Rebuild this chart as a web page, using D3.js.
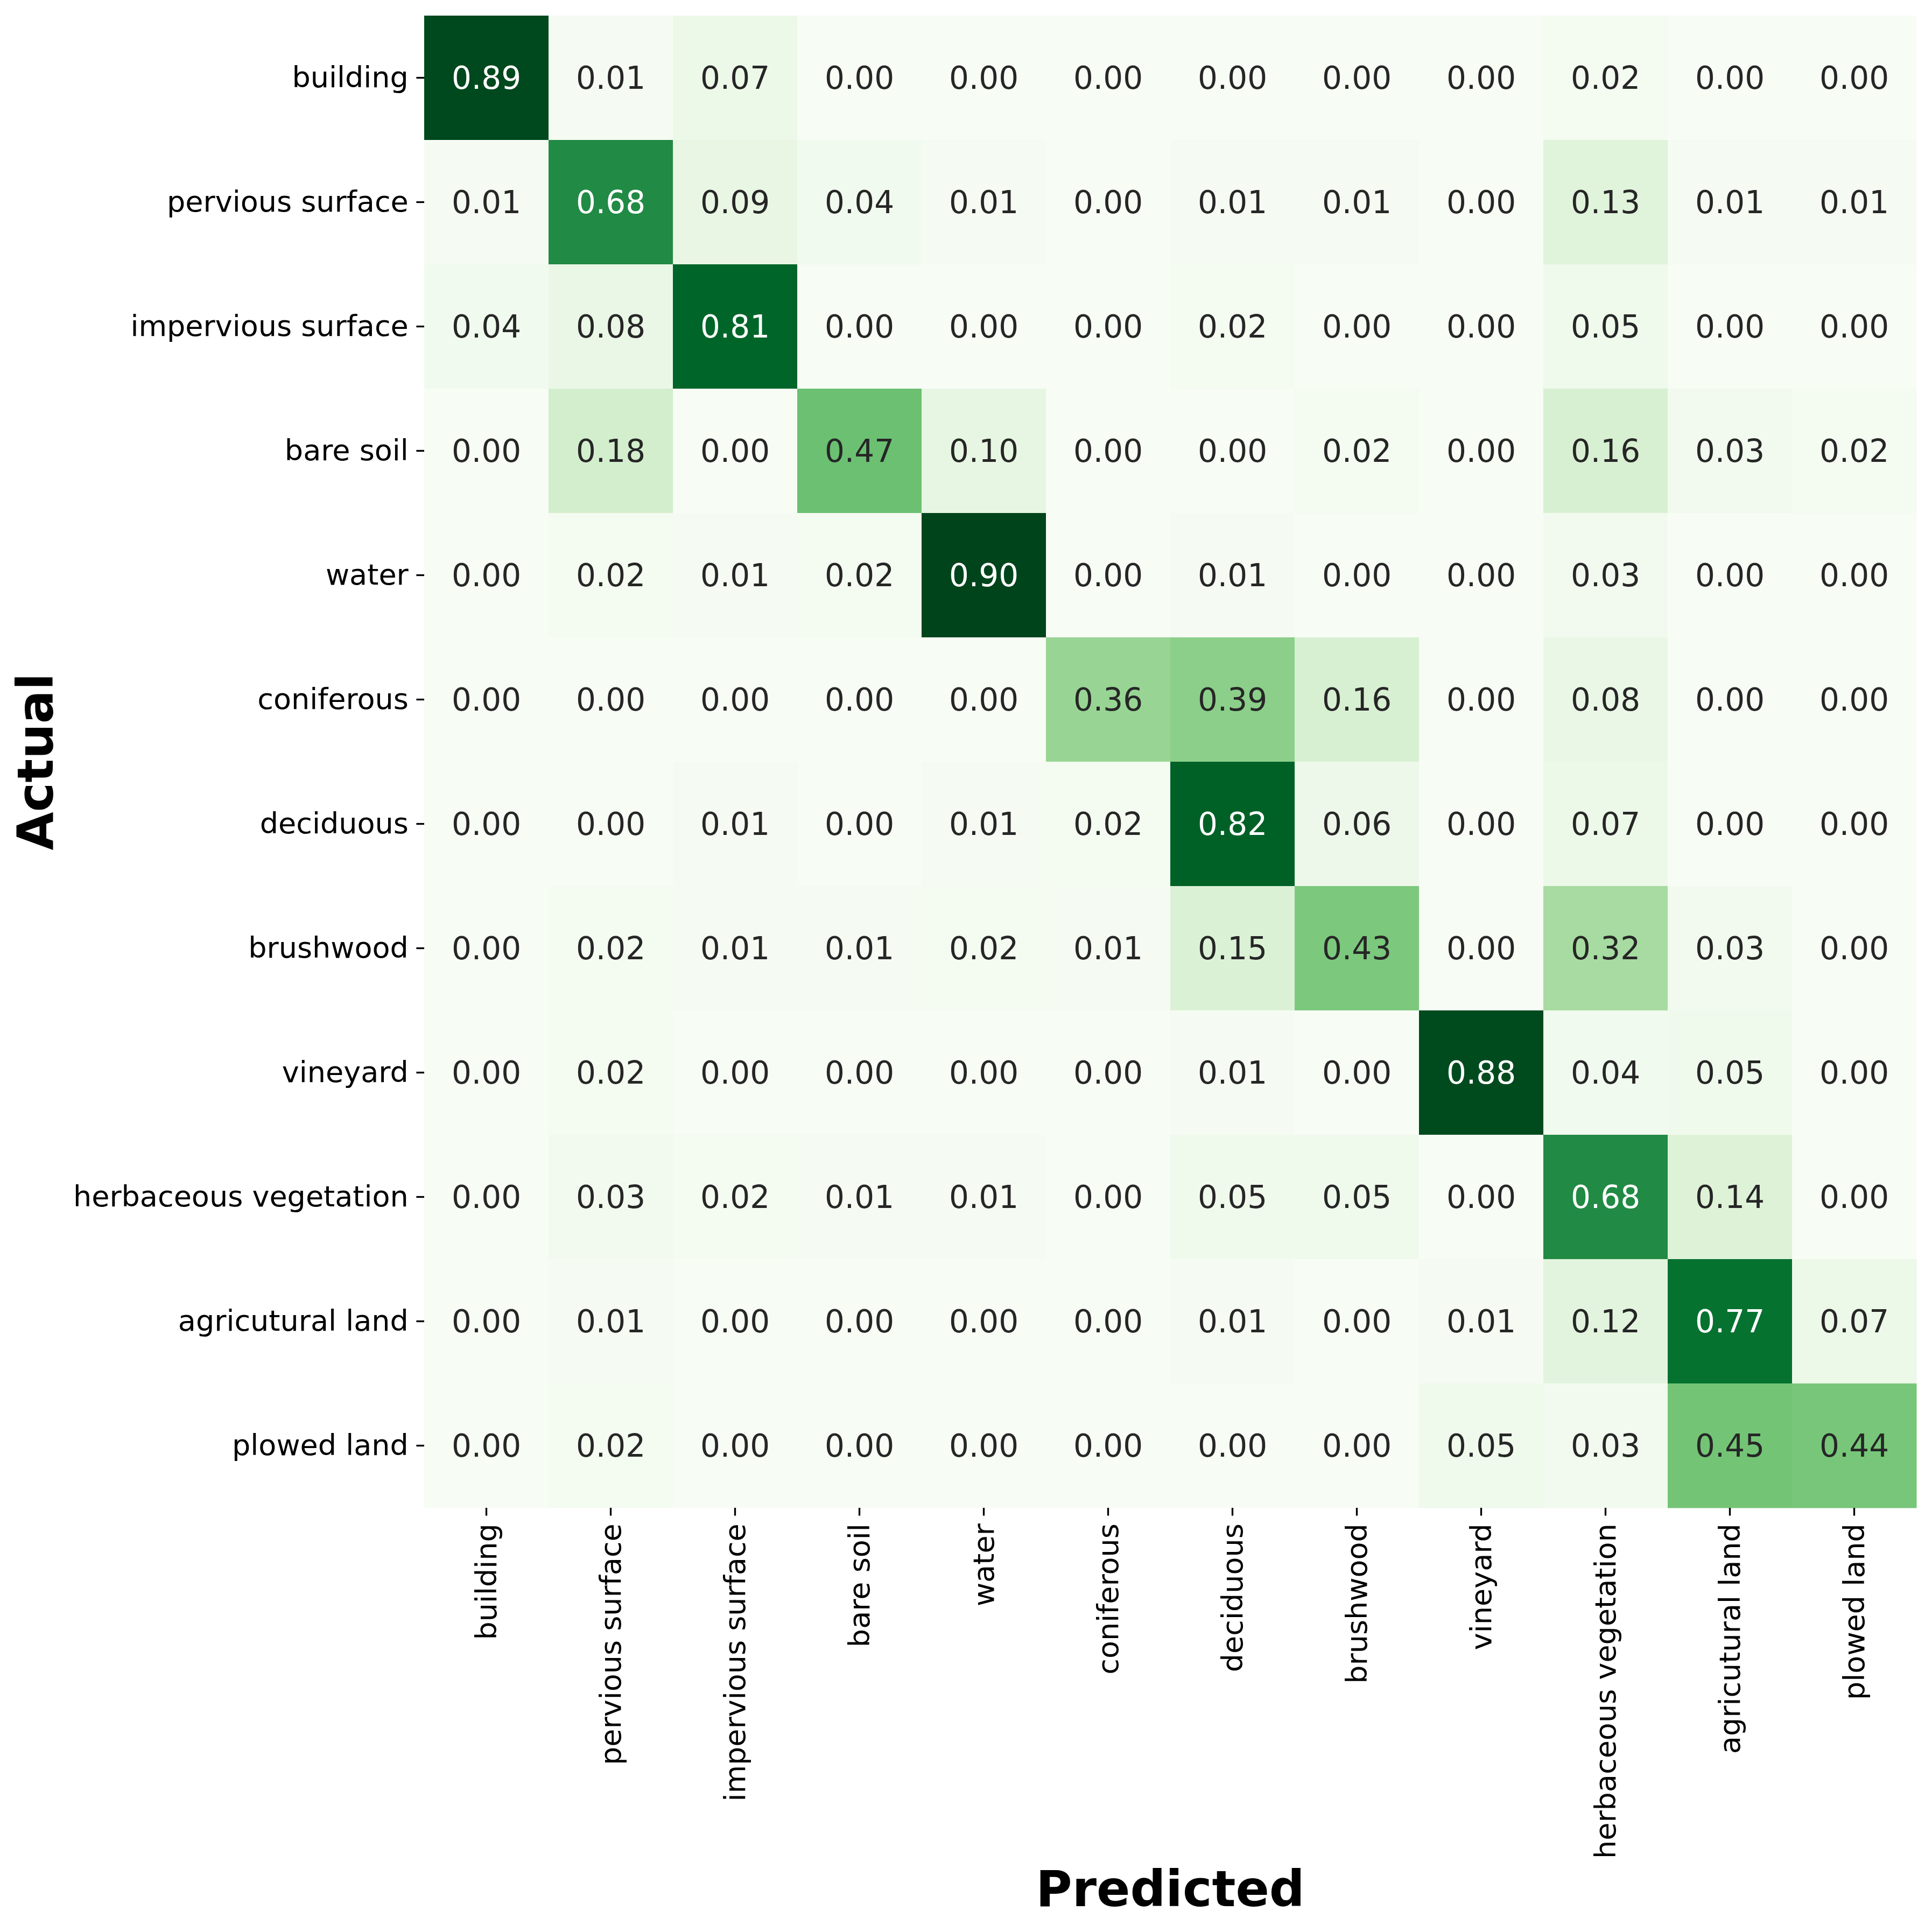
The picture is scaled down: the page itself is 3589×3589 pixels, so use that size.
<!DOCTYPE html>
<html>
<head>
<meta charset="utf-8">
<script src="https://cdn.jsdelivr.net/npm/d3@7"></script>
<style>
body { margin: 0; background: #fff; }
text { font-family: "DejaVu Sans", sans-serif; }
</style>
</head>
<body>
<div id="viz"></div>
<script>
// classes, in the order used for both axes
var classes = ["building", "pervious surface", "impervious surface", "bare soil", "water",
	"coniferous", "deciduous", "brushwood", "vineyard", "herbaceous vegetation",
	"agricutural land", "plowed land"];

// one row per actual class
var building     = [0.89, 0.01, 0.07, 0.00, 0.00, 0.00, 0.00, 0.00, 0.00, 0.02, 0.00, 0.00];
var pervious     = [0.01, 0.68, 0.09, 0.04, 0.01, 0.00, 0.01, 0.01, 0.00, 0.13, 0.01, 0.01];
var impervious   = [0.04, 0.08, 0.81, 0.00, 0.00, 0.00, 0.02, 0.00, 0.00, 0.05, 0.00, 0.00];
var bareSoil     = [0.00, 0.18, 0.00, 0.47, 0.10, 0.00, 0.00, 0.02, 0.00, 0.16, 0.03, 0.02];
var water        = [0.00, 0.02, 0.01, 0.02, 0.90, 0.00, 0.01, 0.00, 0.00, 0.03, 0.00, 0.00];
var coniferous   = [0.00, 0.00, 0.00, 0.00, 0.00, 0.36, 0.39, 0.16, 0.00, 0.08, 0.00, 0.00];
var deciduous    = [0.00, 0.00, 0.01, 0.00, 0.01, 0.02, 0.82, 0.06, 0.00, 0.07, 0.00, 0.00];
var brushwood    = [0.00, 0.02, 0.01, 0.01, 0.02, 0.01, 0.15, 0.43, 0.00, 0.32, 0.03, 0.00];
var vineyard     = [0.00, 0.02, 0.00, 0.00, 0.00, 0.00, 0.01, 0.00, 0.88, 0.04, 0.05, 0.00];
var herbaceous   = [0.00, 0.03, 0.02, 0.01, 0.01, 0.00, 0.05, 0.05, 0.00, 0.68, 0.14, 0.00];
var agricultural = [0.00, 0.01, 0.00, 0.00, 0.00, 0.00, 0.01, 0.00, 0.01, 0.12, 0.77, 0.07];
var plowed       = [0.00, 0.02, 0.00, 0.00, 0.00, 0.00, 0.00, 0.00, 0.05, 0.03, 0.45, 0.44];

var rows = [building, pervious, impervious, bareSoil, water, coniferous, deciduous,
	brushwood, vineyard, herbaceous, agricultural, plowed];

var W = 3589, H = 3589;
var mLeft = 788, mTop = 29, size = 2772;
var tickLen = 14.6, tickPad = 14.6;

var svg = d3.select("#viz")
	.append("svg")
	.attr("width", W)
	.attr("height", H);

svg.append("rect").attr("width", W).attr("height", H).attr("fill", "#fff");

var x = d3.scaleBand().domain(classes).range([mLeft, mLeft + size]);
var y = d3.scaleBand().domain(classes).range([mTop, mTop + size]);

// matplotlib style Greens: straight segments between the 9 brewer colours
var vmax = d3.max(rows, function(r){ return d3.max(r); });
var greens = d3.schemeGreens[9];
var color = d3.scaleLinear()
	.domain(greens.map(function(d, i){ return vmax * i / 8; }))
	.range(greens)
	.interpolate(d3.interpolateRgb)
	.clamp(true);

function luminance(c){
	var rgb = d3.rgb(c);
	var ch = [rgb.r, rgb.g, rgb.b].map(function(v){
		v = v / 255;
		return v <= 0.03928 ? v / 12.92 : Math.pow((v + 0.055) / 1.055, 2.4);
	});
	return 0.2126 * ch[0] + 0.7152 * ch[1] + 0.0722 * ch[2];
}

var cells = [];
rows.forEach(function(r, i){
	r.forEach(function(v, j){
		cells.push({actual: classes[i], predicted: classes[j], value: v});
	});
});

var gs = svg.selectAll("g.cell")
	.data(cells)
	.enter()
	.append("g")
	.attr("class", "cell");

gs.append("rect")
	.attr("x", function(d){ return x(d.predicted); })
	.attr("y", function(d){ return y(d.actual); })
	.attr("width", x.bandwidth() + 0.5)
	.attr("height", y.bandwidth() + 0.5)
	.attr("fill", function(d){ return color(d.value); });

gs.append("text")
	.attr("x", function(d){ return x(d.predicted) + x.bandwidth() / 2; })
	.attr("y", function(d){ return y(d.actual) + y.bandwidth() / 2; })
	.attr("text-anchor", "middle")
	.attr("dominant-baseline", "central")
	.attr("font-size", 58)
	.attr("fill", function(d){ return luminance(color(d.value)) > 0.408 ? "#262626" : "#ffffff"; })
	.text(function(d){ return d.value.toFixed(2); });

// axes
var yAxis = svg.append("g")
	.attr("transform", "translate(" + mLeft + ",0)")
	.call(d3.axisLeft(y).tickSize(tickLen).tickPadding(tickPad));

var xAxis = svg.append("g")
	.attr("transform", "translate(0," + (mTop + size) + ")")
	.call(d3.axisBottom(x).tickSize(tickLen).tickPadding(tickPad));

[xAxis, yAxis].forEach(function(a){
	a.select(".domain").remove();
	a.selectAll(".tick line").attr("stroke", "#000").attr("stroke-width", 3.3);
	a.selectAll(".tick text")
		.attr("fill", "#000")
		.attr("font-size", 54)
		.attr("font-family", "DejaVu Sans, sans-serif");
});

xAxis.selectAll(".tick text")
	.attr("transform", "rotate(-90)")
	.attr("x", -(tickLen + tickPad))
	.attr("y", 0)
	.attr("dy", "0.35em")
	.attr("text-anchor", "end");

// axis titles
svg.append("text")
	.attr("x", mLeft + size / 2)
	.attr("y", 3541)
	.attr("text-anchor", "middle")
	.attr("font-size", 92)
	.attr("font-weight", "bold")
	.attr("fill", "#000")
	.text("Predicted");

svg.append("text")
	.attr("transform", "translate(98," + (mTop + size / 2) + ") rotate(-90)")
	.attr("text-anchor", "middle")
	.attr("font-size", 92)
	.attr("font-weight", "bold")
	.attr("fill", "#000")
	.text("Actual");
</script>
</body>
</html>
